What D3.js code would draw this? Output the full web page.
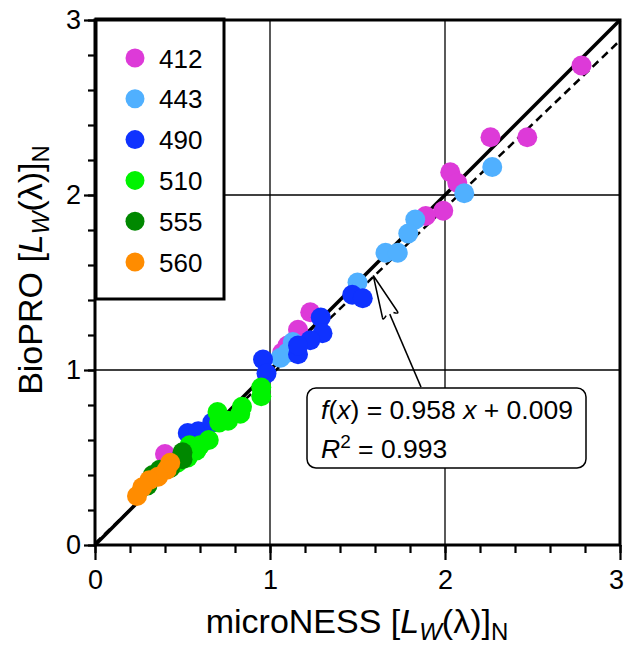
<!DOCTYPE html>
<html><head><meta charset="utf-8">
<script src="https://cdn.jsdelivr.net/npm/d3@7"></script>
<style>body{margin:0;background:#fff} svg{display:block}</style>
</head><body><svg id="c" width="626" height="648"></svg>
<script>
// ---- data ----
const bands = ["412","443","490","510","555","560"];
const bandColors = ["#dd3ad8","#50b0ff","#0f32ff","#00f300","#008800","#ff8c00"];
const micro412 = [2.78,2.47,2.26,2.03,2.07,1.99,1.89,1.23,1.16,1.10,1.07,0.40];
const bio412   = [2.74,2.33,2.33,2.13,2.07,1.91,1.88,1.33,1.23,1.14,1.10,0.52];
const micro443 = [2.27,2.11,1.83,1.79,1.66,1.73,1.50,1.06,1.13,1.10];
const bio443   = [2.16,2.01,1.86,1.78,1.67,1.67,1.50,1.07,1.16,1.10];
const micro490 = [1.47,1.53,1.29,1.30,1.23,1.16,1.16,0.96,0.98,0.53,0.59,0.67];
const bio490   = [1.43,1.41,1.30,1.21,1.17,1.09,1.14,1.06,0.98,0.64,0.65,0.70];
const micro510 = [0.95,0.95,0.84,0.83,0.70,0.71,0.76,0.65,0.60,0.58,0.53,0.54,0.47];
const bio510   = [0.90,0.85,0.79,0.75,0.76,0.70,0.71,0.60,0.57,0.54,0.50,0.57,0.47];
const micro555 = [0.50,0.50,0.43,0.37,0.33,0.30];
const bio555   = [0.53,0.49,0.44,0.43,0.40,0.34];
const micro560 = [0.43,0.41,0.36,0.31,0.27,0.24];
const bio560   = [0.47,0.43,0.39,0.37,0.33,0.28];
const majorTicks = [0,1,2,3];
const minorTicks = d3.range(0,3.001,0.2);
const slope = 0.958, intercept = 0.009, r2 = 0.993;
const arrowTip = [1.59,1.54], arrowTail = [1.863,0.902];

const seriesX = [micro412,micro443,micro490,micro510,micro555,micro560];
const seriesY = [bio412,bio443,bio490,bio510,bio555,bio560];

// ---- layout ----
const svg = d3.select("#c");
const FONT = "'Liberation Sans', Arial, Helvetica, sans-serif";
const x = d3.scaleLinear().domain([0,3]).range([95,620]);
const y = d3.scaleLinear().domain([0,3]).range([545,20]);

// gridlines
const g = svg.append("g");
g.selectAll("line.gx").data([1,2]).join("line")
  .attr("x1",d=>x(d)).attr("x2",d=>x(d)).attr("y1",y(0)).attr("y2",y(3))
  .attr("stroke","#000").attr("stroke-width",1.3);
g.selectAll("line.gy").data([1,2]).join("line")
  .attr("y1",d=>y(d)).attr("y2",d=>y(d)).attr("x1",x(0)).attr("x2",x(3))
  .attr("stroke","#000").attr("stroke-width",1.3);

// 1:1 line and regression line
svg.append("line").attr("x1",x(0)).attr("y1",y(0)).attr("x2",x(3)).attr("y2",y(3))
  .attr("stroke","#000").attr("stroke-width",3.5);
svg.append("line").attr("x1",x(0)).attr("y1",y(intercept)).attr("x2",x(3)).attr("y2",y(slope*3+intercept))
  .attr("stroke","#000").attr("stroke-width",2.5).attr("stroke-dasharray","8,5");

// points
bands.forEach((b,i)=>{
  const pts = seriesX[i].map((v,j)=>[v,seriesY[i][j]]);
  svg.append("g").selectAll("circle").data(pts).join("circle")
    .attr("cx",d=>x(d[0])).attr("cy",d=>y(d[1])).attr("r",10)
    .attr("fill",bandColors[i]);
});

// legend
const lg = svg.append("g");
lg.append("rect").attr("x",96).attr("y",19).attr("width",128).attr("height",280)
  .attr("fill","#fff").attr("stroke","#000").attr("stroke-width",3);
bands.forEach((b,i)=>{
  const cy = 58 + i*40.8;
  lg.append("circle").attr("cx",135).attr("cy",cy).attr("r",9.5).attr("fill",bandColors[i]);
  lg.append("text").attr("x",159).attr("y",cy+9.5).text(b)
    .attr("font-family",FONT).attr("font-size",26).attr("fill","#000");
});

// axes
const ax = svg.append("g");
const xMajor = d3.axisBottom(x).tickValues(majorTicks).tickSize(15).tickPadding(10).tickFormat(d3.format("d"));
const xMinor = d3.axisBottom(x).tickValues(minorTicks).tickSize(8).tickFormat("");
const yMajor = d3.axisLeft(y).tickValues(majorTicks).tickSize(11).tickPadding(3).tickFormat(d3.format("d"));
const yMinor = d3.axisLeft(y).tickValues(minorTicks).tickSize(7).tickFormat("");
[[xMinor,"b"],[xMajor,"b"],[yMinor,"l"],[yMajor,"l"]].forEach(([a,s])=>{
  const gg = ax.append("g").attr("transform", s==="b" ? `translate(0,${y(0)})` : `translate(${x(0)},0)`).call(a);
  gg.select(".domain").remove();
  gg.selectAll(".tick line").attr("stroke","#000").attr("stroke-width",2.2);
  gg.selectAll("text").attr("font-family",FONT).attr("font-size",27).attr("fill","#000");
  if (s==="b") gg.selectAll(".tick text").filter(d=>d===3).attr("dx",-4);
});
// frame
svg.append("rect").attr("x",x(0)).attr("y",y(3)).attr("width",x(3)-x(0)).attr("height",y(0)-y(3))
  .attr("fill","none").attr("stroke","#000").attr("stroke-width",3);

// axis titles
function title(sel, main){
  sel.attr("font-family",FONT).attr("font-size",34).attr("fill","#000");
  sel.append("tspan").text(main+" [");
  sel.append("tspan").text("L").attr("font-style","italic");
  sel.append("tspan").text("W").attr("font-style","italic").attr("font-size",24).attr("dy",7);
  sel.append("tspan").text("(λ)]").attr("dy",-7);
  sel.append("tspan").text("N").attr("font-size",24).attr("dy",7);
}
title(svg.append("text").attr("x",357).attr("y",633).attr("text-anchor","middle"),"microNESS");
title(svg.append("text").attr("transform","translate(42,270) rotate(-90)").attr("text-anchor","middle"),"BioPRO");

// annotation
const tip = [x(arrowTip[0]), y(arrowTip[1])];
const tail = [x(arrowTail[0]), y(arrowTail[1])];
const dx = tip[0]-tail[0], dy = tip[1]-tail[1], L = Math.hypot(dx,dy);
const u = [dx/L, dy/L], n = [-u[1], u[0]];
const hl = 42, hw = 8;
const base = [tip[0]-u[0]*hl, tip[1]-u[1]*hl];
const bl = [base[0]+n[0]*hw, base[1]+n[1]*hw];
const br = [base[0]-n[0]*hw, base[1]-n[1]*hw];
svg.append("line").attr("x1",tail[0]).attr("y1",tail[1]).attr("x2",base[0]).attr("y2",base[1])
  .attr("stroke","#000").attr("stroke-width",1.5);
svg.append("path")
  .attr("d",`M${bl[0]},${bl[1]} L${tip[0]},${tip[1]} L${br[0]},${br[1]}`
    + ` M${bl[0]},${bl[1]} q${-u[0]*4+n[0]*1},${-u[1]*4+n[1]*1} ${-n[0]*4},${-n[1]*4}`
    + ` M${br[0]},${br[1]} q${-u[0]*4-n[0]*1},${-u[1]*4-n[1]*1} ${n[0]*4},${n[1]*4}`)
  .attr("fill","none").attr("stroke","#000").attr("stroke-width",1.5);

svg.append("rect").attr("x",307).attr("y",388).attr("width",279).attr("height",80)
  .attr("rx",9).attr("fill","#fff").attr("stroke","#000").attr("stroke-width",1.5);
const t1 = svg.append("text").attr("x",321).attr("y",419).attr("font-family",FONT).attr("font-size",26.5);
t1.append("tspan").text("f").attr("font-style","italic");
t1.append("tspan").text("(");
t1.append("tspan").text("x").attr("font-style","italic");
t1.append("tspan").text(") = " + slope.toFixed(3) + " ");
t1.append("tspan").text("x").attr("font-style","italic");
t1.append("tspan").text(" + " + intercept.toFixed(3));
const t2 = svg.append("text").attr("x",321).attr("y",458).attr("font-family",FONT).attr("font-size",26.5);
t2.append("tspan").text("R").attr("font-style","italic");
t2.append("tspan").text("2").attr("font-size",19).attr("dy",-10);
t2.append("tspan").text(" = " + r2.toFixed(3)).attr("dy",10);
</script></body></html>
